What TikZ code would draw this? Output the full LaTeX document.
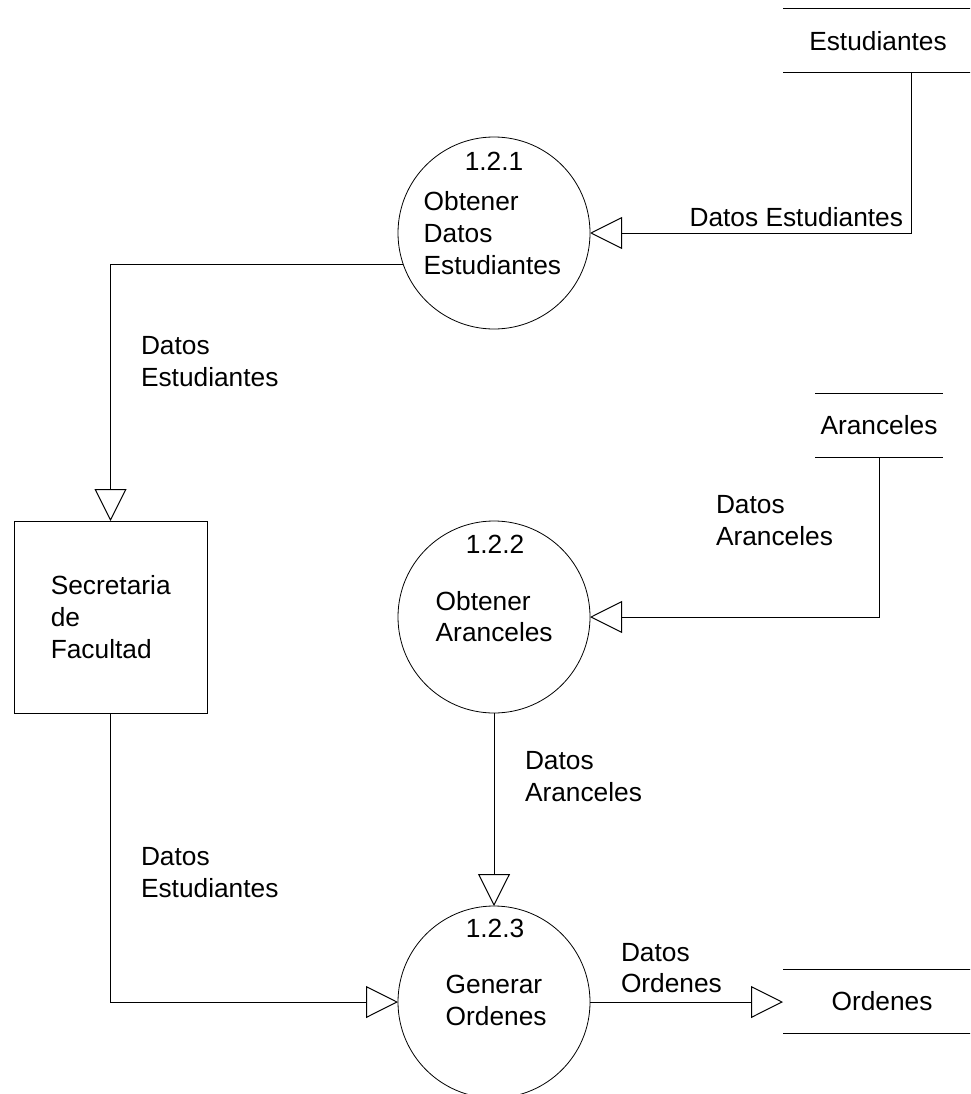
\documentclass[tikz,border=0pt]{standalone}
\usepackage{fontspec}
\setmainfont{Liberation Sans}
\usetikzlibrary{arrows.meta}
\begin{document}
\begin{tikzpicture}[x=1pt,y=-1pt,
  every node/.style={font=\fontsize{26.3}{31.7}\selectfont, inner sep=0pt, outer sep=0pt},
  process/.style={draw, circle, minimum size=192pt, line width=0.8pt},
  entity/.style={draw, rectangle, minimum width=193pt, minimum height=192pt, line width=1pt},
  storebox/.style={rectangle, minimum height=64pt},
  txt/.style={align=left, anchor=west},
  flow/.style={line width=1pt, -{Triangle[open, length=32pt, width=32pt]}},
  storeline/.style={line width=1pt},
]
\path[use as bounding box] (0,0) rectangle (970,1094);
\clip (0,0) rectangle (970,1094);

% processes
\node[process] (c1) at (494,233) {};
\node[anchor=base] (n1) at (494,171) {1.2.1};
\node[txt] (t1) at (423.7,232.9) {Obtener\\Datos\\Estudiantes};

\node[process] (c2) at (494,617) {};
\node[anchor=base] (n2) at (495,553) {1.2.2};
\node[txt] (t2) at (435.7,616.7) {Obtener\\Aranceles};

\node[process] (c3) at (494,1002) {};
\node[anchor=base] (n3) at (495,937) {1.2.3};
\node[txt] (t3) at (445.7,1000.7) {Generar\\Ordenes};

% external entity
\node[entity] (sec) at (110.5,617) {};
\node[txt] (tsec) at (50.8,617.2) {Secretaria\\de\\Facultad};

% data stores (open-ended)
\node[storebox, minimum width=190pt] (est) at (878,41) {Estudiantes};
\node[storebox, minimum width=128pt] (ara) at (879,425) {Aranceles};
\node[storebox, minimum width=198pt] (ord) at (882,1001) {Ordenes};
\foreach \s in {est,ara,ord}
  \draw[storeline] (\s.north west) -- (\s.north east) (\s.south west) -- (\s.south east);

% flow labels
\node[anchor=base east] (l1) at (903,226.5) {Datos Estudiantes};
\node[txt] (l2) at (141,361.7) {Datos\\Estudiantes};
\node[txt] (l3) at (716,520.7) {Datos\\Aranceles};
\node[txt] (l4) at (525,776.7) {Datos\\Aranceles};
\node[txt] (l5) at (141,872.7) {Datos\\Estudiantes};
\node[txt] (l6) at (621,968.2) {Datos\\Ordenes};

% data flows
\coordinate (estOut) at (911,73);
\draw[flow] (estOut) |- (c1.east);
\draw[flow] (c1.199.47) -| (sec.north);
\draw[flow] (sec.south) |- (c3.west);
\draw[flow] (ara.south) |- (c2.east);
\draw[flow] (c2.south) -- (c3.north);
\draw[flow] (c3.east) -- (c3.east -| ord.west);
\end{tikzpicture}
\end{document}
